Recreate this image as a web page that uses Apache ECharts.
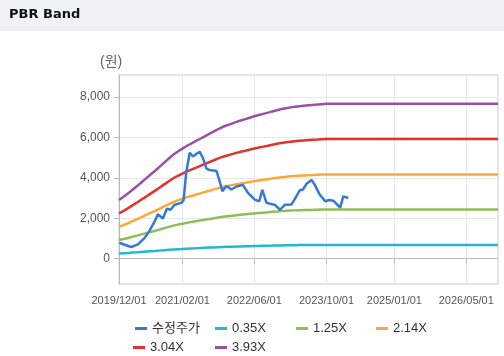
<!DOCTYPE html>
<html>
<head>
<meta charset="utf-8">
<script src="https://cdn.jsdelivr.net/npm/echarts@6/dist/echarts.min.js"></script>
<style>html,body{margin:0;padding:0;background:#fff}#c{width:504px;height:356px}</style>
</head>
<body>
<div id="c"></div>
<script>
const tickDates = ['2019-12-01','2021-02-01','2022-06-01','2023-10-01','2025-01-01','2026-05-01'];
const yTicks = [0, 2000, 4000, 6000, 8000];
const seriesNames = ['수정주가','0.35X','1.25X','2.14X','3.04X','3.93X'];
const seriesColors = ['#3479d6','#22b8cf','#8dbf55','#fba83a','#e2322b','#9a50a6'];

const priceDates = ['2019-12-04','2020-01-07','2020-02-22','2020-04-07','2020-05-22','2020-06-25','2020-07-28','2020-08-19','2020-09-22','2020-10-19','2020-11-13','2020-12-10','2021-01-04','2021-01-25','2021-02-09','2021-02-26','2021-03-22','2021-04-13','2021-05-10','2021-05-28','2021-06-19','2021-07-13','2021-08-04','2021-09-19','2021-10-10','2021-10-28','2021-11-25','2021-12-28','2022-02-01','2022-03-16','2022-04-19','2022-06-04','2022-07-04','2022-07-25','2022-08-22','2022-10-16','2022-11-22','2022-12-01','2022-12-25','2023-02-07','2023-03-13','2023-04-04','2023-04-25','2023-05-19','2023-06-22','2023-07-13','2023-08-16','2023-09-22','2023-10-19','2023-11-16','2024-01-01','2024-01-22','2024-02-25'];
const priceValues = [790,690,580,710,1030,1400,1830,2200,1990,2470,2420,2670,2720,2760,2900,4240,5240,5050,5200,5290,4980,4450,4380,4330,3830,3340,3590,3420,3570,3650,3250,2920,2840,3400,2760,2670,2420,2340,2670,2680,3100,3380,3420,3700,3890,3660,3170,2840,2900,2870,2520,3080,3000];

const bandDates = ['2019-12-01','2020-01-01','2020-02-01','2020-03-01','2020-04-01','2020-05-01','2020-06-01','2020-07-01','2020-08-01','2020-09-01','2020-10-01','2020-11-01','2020-12-01','2021-01-01','2021-02-01','2021-03-01','2021-04-01','2021-05-01','2021-06-01','2021-07-01','2021-08-01','2021-09-01','2021-10-01','2021-11-01','2021-12-01','2022-01-01','2022-02-01','2022-03-01','2022-04-01','2022-05-01','2022-06-01','2022-07-01','2022-08-01','2022-09-01','2022-10-01','2022-11-01','2022-12-01','2023-01-01','2023-02-01','2023-03-01','2023-04-01','2023-05-01','2023-06-01','2023-07-01','2023-08-01','2023-09-01','2023-10-01','2026-12-01'];
const band035 = [258,273,288,304,320,337,354,370,387,405,423,441,458,472,484,496,507,517,528,539,550,560,571,581,588,595,602,608,615,621,627,632,638,643,648,654,659,663,666,669,672,673,675,677,679,680,682,682];
const band125 = [922,973,1027,1085,1142,1202,1263,1323,1384,1447,1511,1574,1635,1686,1730,1772,1810,1848,1886,1924,1962,2001,2039,2074,2099,2125,2150,2172,2195,2217,2239,2258,2277,2296,2316,2335,2354,2366,2379,2389,2398,2405,2411,2417,2424,2430,2435,2435];
const band214 = [1579,1666,1759,1857,1955,2058,2162,2265,2369,2478,2587,2695,2799,2886,2962,3033,3098,3164,3229,3294,3360,3425,3490,3550,3594,3638,3681,3719,3757,3795,3834,3866,3899,3931,3964,3997,4030,4051,4073,4089,4106,4117,4128,4138,4149,4160,4168,4168];
const band304 = [2243,2367,2499,2638,2777,2924,3071,3218,3365,3520,3674,3829,3976,4100,4208,4309,4401,4494,4587,4680,4773,4866,4958,5043,5105,5167,5229,5283,5337,5392,5446,5492,5539,5585,5631,5678,5724,5755,5786,5809,5832,5848,5864,5879,5894,5910,5921,5921];
const band393 = [2900,3060,3230,3410,3590,3780,3970,4160,4350,4550,4750,4950,5140,5300,5440,5570,5690,5810,5930,6050,6170,6290,6410,6520,6600,6680,6760,6830,6900,6970,7040,7100,7160,7220,7280,7340,7400,7440,7480,7510,7540,7560,7580,7600,7620,7640,7655,7655];

const FONT = '"Liberation Sans", "Noto Sans CJK KR", sans-serif';
const P = s => Date.UTC(+s.slice(0, 4), +s.slice(5, 7) - 1, +s.slice(8, 10));
const fmtDate = v => {
  const d = new Date(v);
  const p = n => String(n).padStart(2, '0');
  return d.getUTCFullYear() + '/' + p(d.getUTCMonth() + 1) + '/' + p(d.getUTCDate());
};
const pair = (dates, vals) => dates.map((d, k) => [P(d), vals[k]]);
const bands = [band035, band125, band214, band304, band393];

const legendPos = [[130, 317], [210, 317], [291, 317], [371, 317], [128, 336], [210, 336]];

const chart = echarts.init(document.getElementById('c'), null, {renderer: 'canvas'});
const series = [{
  name: seriesNames[0], type: 'line', data: pair(priceDates, priceValues),
  showSymbol: false, z: 10, lineStyle: {width: 2.5, color: seriesColors[0]}, itemStyle: {color: seriesColors[0]}
}];
bands.forEach((b, k) => series.push({
  name: seriesNames[k + 1], type: 'line', data: pair(bandDates, b),
  showSymbol: false, z: 3, lineStyle: {width: 2.5, color: seriesColors[k + 1]}, itemStyle: {color: seriesColors[k + 1]}
}));

chart.setOption({
  animation: false,
  backgroundColor: '#ffffff',
  color: seriesColors,
  title: {text: 'PBR Band', left: 4, top: 3, textStyle: {fontFamily: '"DejaVu Sans", sans-serif', fontSize: 13, fontWeight: 'bold', color: '#111'}},
  graphic: [
    {type: 'rect', left: 0, top: 0, z: -10, shape: {width: 504, height: 31}, style: {fill: '#eef1f6'}},
    {type: 'text', left: 100, top: 55, style: {text: '(원)', font: '14px ' + FONT, fill: '#666'}}
  ],
  legend: seriesNames.map((n, k) => ({
    data: [n], left: legendPos[k][0], top: legendPos[k][1], icon: 'rect', itemWidth: 12, itemHeight: 3, itemGap: 5,
    textStyle: {fontFamily: FONT, fontSize: 13, color: '#333'}
  })),
  grid: {left: 119, right: 6, top: 75, bottom: 72, show: true, borderColor: '#cccccc', borderWidth: 1, containLabel: false},
  xAxis: {
    type: 'value', min: P('2019-12-01'), max: P('2026-12-01'),
    axisLine: {lineStyle: {color: '#bbbbbb'}},
    axisTick: {show: true, length: 5, lineStyle: {color: '#bbbbbb'}, customValues: tickDates.map(P)},
    axisLabel: {customValues: tickDates.map(P), color: '#555', fontSize: 11, fontFamily: FONT, margin: 11,
      formatter: v => fmtDate(v)},
    splitLine: {show: true, lineStyle: {color: '#e8e8e8'}}
  },
  yAxis: {
    type: 'value', min: -1250, max: 9080,
    axisLine: {show: true, lineStyle: {color: '#bbbbbb'}},
    axisTick: {show: true, length: 5, lineStyle: {color: '#bbbbbb'}, customValues: yTicks},
    axisLabel: {customValues: yTicks, color: '#555', fontSize: 12, fontFamily: FONT, margin: 9,
      formatter: v => v.toLocaleString('en-US')},
    splitLine: {show: true, lineStyle: {color: '#e8e8e8'}}
  },
  series: series
});
</script>
</body>
</html>
